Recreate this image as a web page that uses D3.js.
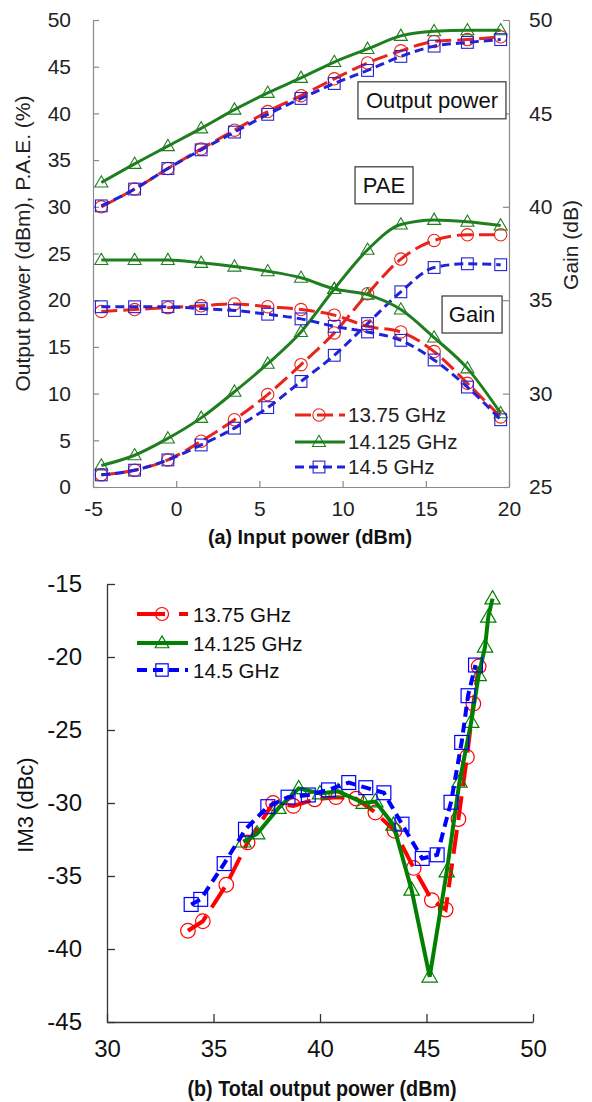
<!DOCTYPE html>
<html><head><meta charset="utf-8">
<script src="https://cdn.jsdelivr.net/npm/d3@7"></script>
<style>
html,body{margin:0;padding:0;background:#fff;}
svg{display:block;font-family:"Liberation Sans",Arial,sans-serif;}
</style></head>
<body>
<svg id="c" width="592" height="1102"></svg>
<script>
// ---------- (a) data ----------
const seriesNames = ["13.75 GHz", "14.125 GHz", "14.5 GHz"];
const inputPower = [-4.5,-2.5,-0.5,1.5,3.5,5.5,7.5,9.5,11.5,13.5,15.5,17.5,19.5];
const poutRed   = [30.0,31.9,34.1,36.2,38.2,40.2,41.9,43.7,45.4,46.7,47.7,47.9,48.2];
const poutGreen = [32.6,34.6,36.5,38.4,40.4,42.2,43.8,45.5,46.9,48.3,48.8,48.9,48.9];
const poutBlue  = [30.1,31.9,34.1,36.1,38.0,39.9,41.6,43.2,44.6,46.1,47.2,47.6,47.9];
const paeRed    = [1.3,1.8,2.9,4.9,7.2,9.9,13.1,16.5,20.7,24.4,26.4,27.0,27.0];
const paeGreen  = [2.3,3.4,5.2,7.4,10.2,13.2,16.6,21.2,25.4,28.1,28.6,28.4,28.0];
const paeBlue   = [1.3,1.8,2.9,4.5,6.3,8.5,11.3,14.1,17.5,20.9,23.5,23.9,23.8];
const gainRed   = [34.4,34.5,34.6,34.7,34.8,34.65,34.5,34.2,33.6,33.3,32.25,30.55,28.75];
const gainGreen = [37.15,37.15,37.15,37.0,36.8,36.55,36.2,35.6,35.3,34.5,33.0,31.35,28.95];
const gainBlue  = [34.65,34.65,34.65,34.55,34.45,34.25,34.0,33.6,33.3,32.85,31.8,30.35,28.6];
const xTicksA = [-5,0,5,10,15,20];
const yTicksA = [0,5,10,15,20,25,30,35,40,45,50];
const gTicksA = [25,30,35,40,45,50];

// ---------- (b) data ----------
const im3RedX   = [33.8,34.5,35.6,36.6,37.8,38.75,39.75,40.75,41.7,42.6,43.5,44.4,45.25,45.9,46.5,46.9,47.2,47.45];
const im3RedY   = [-38.75,-38.1,-35.6,-32.7,-30.0,-30.2,-29.75,-29.6,-29.7,-30.65,-31.9,-34.45,-36.65,-37.3,-31.1,-26.85,-23.2,-20.65];
const im3GreenX = [36.4,37.05,38.05,39.0,40.0,40.85,42.05,42.6,43.45,44.3,45.15,45.95,46.55,47.1,47.45,47.75,47.9,48.1];
const im3GreenY = [-32.65,-32.1,-30.35,-29.0,-29.35,-29.2,-30.0,-29.9,-31.5,-35.95,-41.9,-34.7,-28.55,-24.45,-21.25,-19.3,-17.25,-16.0];
const im3BlueX  = [33.95,34.4,35.5,36.5,37.55,38.5,39.45,40.4,41.35,42.15,43.0,43.85,44.8,45.5,46.15,46.65,46.95,47.3];
const im3BlueY  = [-36.95,-36.6,-34.15,-31.8,-30.25,-29.6,-29.45,-29.1,-28.6,-28.95,-29.3,-31.45,-33.8,-33.55,-29.95,-25.85,-22.65,-20.55];
const xTicksB = [30,35,40,45,50];
const yTicksB = [-45,-40,-35,-30,-25,-20,-15];

const svg = d3.select("#c");
const fmt = d => String(d);

// symbol helpers
function marker(g, kind, x, y, color, sz, sw) {
  if (kind === "circle") {
    g.append("circle").attr("cx", x).attr("cy", y).attr("r", sz)
      .attr("fill", "none").attr("stroke", color).attr("stroke-width", sw);
  } else if (kind === "tri") {
    const s = sz * 2.1, h = s * Math.sqrt(3) / 2;
    g.append("path").attr("d", `M${x},${y - h*0.6}L${x + s/2},${y + h*0.4}L${x - s/2},${y + h*0.4}Z`)
      .attr("fill", "none").attr("stroke", color).attr("stroke-width", sw);
  } else {
    const s = sz * 1.9;
    g.append("rect").attr("x", x - s/2).attr("y", y - s/2).attr("width", s).attr("height", s)
      .attr("fill", "none").attr("stroke", color).attr("stroke-width", sw);
  }
}

// ================= (a) =================
(function () {
  const L = 93, R = 509, T = 20, B = 487;
  const x = d3.scaleLinear().domain([-5, 20]).range([L, R]);
  const y = d3.scaleLinear().domain([0, 50]).range([B, T]);
  const yg = d3.scaleLinear().domain([25, 50]).range([B, T]);
  const axisCol = "#8a8a8a";
  const g = svg.append("g");

  const ax = g.append("g").attr("transform", `translate(0,${B})`)
    .call(d3.axisBottom(x).tickValues(xTicksA).tickFormat(fmt).tickSize(-6).tickPadding(14).tickSizeOuter(0));
  const ayl = g.append("g").attr("transform", `translate(${L},0)`)
    .call(d3.axisLeft(y).tickValues(yTicksA).tickFormat(fmt).tickSize(-6).tickPadding(22).tickSizeOuter(0));
  const ayr = g.append("g").attr("transform", `translate(${R},0)`)
    .call(d3.axisRight(yg).tickValues(gTicksA).tickFormat(fmt).tickSize(-6).tickPadding(20).tickSizeOuter(0));
  [ax, ayl, ayr].forEach(a => {
    a.select(".domain").attr("stroke", axisCol).attr("stroke-width", 1.2);
    a.selectAll(".tick line").attr("stroke", axisCol).attr("stroke-width", 1.2);
    a.selectAll("text").attr("font-size", 21).attr("fill", "#222")
      .attr("font-family", "'Liberation Sans',Arial,sans-serif");
  });
  ax.selectAll("text").attr("dy", "0.71em");

  g.append("text").attr("transform", `translate(30,${(T+B)/2 - 10}) rotate(-90)`)
    .attr("text-anchor", "middle").attr("font-size", 21).attr("fill", "#222")
    .text("Output power (dBm), P.A.E. (%)");
  g.append("text").attr("transform", `translate(578,245) rotate(-90)`)
    .attr("text-anchor", "middle").attr("font-size", 21).attr("fill", "#222")
    .text("Gain (dB)");
  g.append("text").attr("x", 310).attr("y", 544)
    .attr("text-anchor", "middle").attr("font-size", 21).attr("font-weight", "bold")
    .attr("textLength", 204).attr("lengthAdjust", "spacingAndGlyphs").attr("fill", "#111")
    .text("(a) Input power (dBm)");

  const styles = [
    {color: "#e8241c", dash: "16,6", kind: "circle"},
    {color: "#1f7f1f", dash: null, kind: "tri"},
    {color: "#2222d6", dash: "9,5", kind: "square"}
  ];
  const groups = [
    [poutRed, poutGreen, poutBlue, y],
    [paeRed, paeGreen, paeBlue, y],
    [gainRed, gainGreen, gainBlue, yg]
  ];
  const line = (sc) => d3.line().x((d, i) => x(inputPower[i])).y(d => sc(d)).curve(d3.curveMonotoneX);
  groups.forEach(gr => {
    const sc = gr[3];
    [0, 1, 2].forEach(k => {
      const st = styles[k];
      const data = gr[k];
      g.append("path").datum(data).attr("d", line(sc)).attr("fill", "none")
        .attr("stroke", st.color).attr("stroke-width", 3)
        .attr("stroke-dasharray", st.dash);
      data.forEach((v, i) => marker(g, st.kind, x(inputPower[i]), sc(v), st.color, 6.2, 1.1));
    });
  });

  function box(txt, cx, cy, w, h) {
    const px = x(cx), py = y(cy);
    g.append("rect").attr("x", px - w/2).attr("y", py - h/2).attr("width", w).attr("height", h)
      .attr("fill", "#fff").attr("stroke", "#333").attr("stroke-width", 1.2);
    g.append("text").attr("x", px).attr("y", py + 8).attr("text-anchor", "middle")
      .attr("font-size", 22).attr("fill", "#111").text(txt);
  }
  box("Output power", 15.37, 41.4, 148, 37);
  box("PAE", 12.49, 32.3, 58, 37);
  box("Gain", 17.78, 18.47, 60, 37);

  const ly = [415, 442, 467];
  seriesNames.forEach((nm, k) => {
    const st = styles[k];
    g.append("line").attr("x1", 295).attr("x2", 345).attr("y1", ly[k]).attr("y2", ly[k])
      .attr("stroke", st.color).attr("stroke-width", 3).attr("stroke-dasharray", st.dash);
    marker(g, st.kind, 319, ly[k], st.color, 6.2, 1.1);
    g.append("text").attr("x", 348).attr("y", ly[k] + 7).attr("font-size", 20.5).attr("fill", "#222").text(nm);
  });
})();

// ================= (b) =================
(function () {
  const L = 107, R = 533, T = 584, B = 1022;
  const x = d3.scaleLinear().domain([30, 50]).range([L, R]);
  const y = d3.scaleLinear().domain([-45, -15]).range([B, T]);
  const axisCol = "#333";
  const g = svg.append("g");

  const ax = g.append("g").attr("transform", `translate(0,${B})`)
    .call(d3.axisBottom(x).tickValues(xTicksB).tickFormat(fmt).tickSize(-8).tickPadding(18).tickSizeOuter(0));
  const ay = g.append("g").attr("transform", `translate(${L},0)`)
    .call(d3.axisLeft(y).tickValues(yTicksB).tickFormat(fmt).tickSize(-8).tickPadding(25).tickSizeOuter(0));
  [ax, ay].forEach(a => {
    a.select(".domain").attr("stroke", axisCol).attr("stroke-width", 1.3);
    a.selectAll(".tick line").attr("stroke", axisCol).attr("stroke-width", 1.3);
    a.selectAll("text").attr("font-size", 24).attr("fill", "#111")
      .attr("font-family", "'Liberation Sans',Arial,sans-serif");
  });
  ax.selectAll("text").attr("dy", "0.71em");

  g.append("text").attr("transform", `translate(33,805) rotate(-90)`)
    .attr("text-anchor", "middle").attr("font-size", 22).attr("fill", "#111").text("IM3 (dBc)");
  g.append("text").attr("x", 322).attr("y", 1096)
    .attr("text-anchor", "middle").attr("font-size", 22).attr("font-weight", "bold")
    .attr("textLength", 269).attr("lengthAdjust", "spacingAndGlyphs").attr("fill", "#111")
    .text("(b) Total output power (dBm)");

  const styles = [
    {color: "#ff0000", dash: "24,10", kind: "circle", xs: im3RedX, ys: im3RedY},
    {color: "#008000", dash: null, kind: "tri", xs: im3GreenX, ys: im3GreenY},
    {color: "#0000ff", dash: "10,6", kind: "square", xs: im3BlueX, ys: im3BlueY}
  ];
  styles.forEach(st => {
    const pts = st.xs.map((v, i) => [v, st.ys[i]]);
    g.append("path").datum(pts)
      .attr("d", d3.line().x(d => x(d[0])).y(d => y(d[1])))
      .attr("fill", "none").attr("stroke", st.color).attr("stroke-width", 4)
      .attr("stroke-dasharray", st.dash);
    pts.forEach(p => marker(g, st.kind, x(p[0]), y(p[1]), st.color, 7.3, 1.2));
  });

  const ly = [614, 643, 670];
  seriesNames.forEach((nm, k) => {
    const st = styles[k];
    g.append("line").attr("x1", 137).attr("x2", 188).attr("y1", ly[k]).attr("y2", ly[k])
      .attr("stroke", st.color).attr("stroke-width", 4).attr("stroke-dasharray", k === 0 ? "28,14" : st.dash);
    marker(g, st.kind, 162, ly[k], st.color, 6.5, 1.2);
    g.append("text").attr("x", 193).attr("y", ly[k] + 8).attr("font-size", 20.5).attr("fill", "#111").text(nm);
  });
})();
</script>
</body></html>
